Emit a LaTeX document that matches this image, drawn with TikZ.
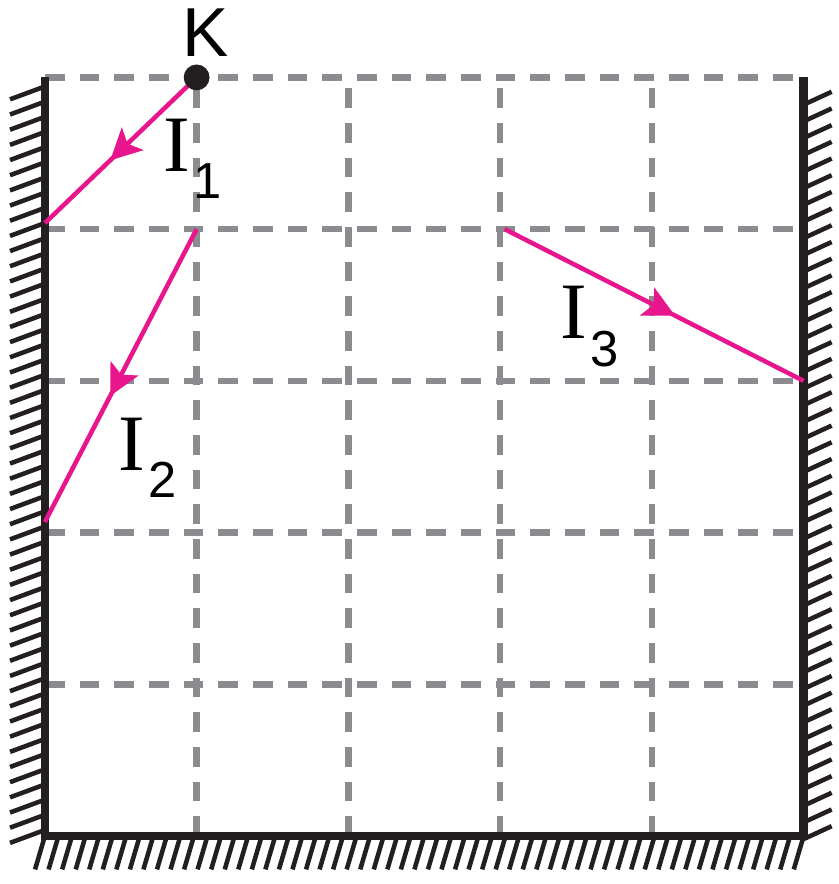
\documentclass[tikz,border=0pt]{standalone}
\usepackage{fontspec}
\setmainfont{Liberation Sans}
\newfontfamily\seriffont{Liberation Serif}
\usetikzlibrary{arrows.meta,decorations.markings}

\definecolor{raypink}{RGB}{232,22,140}
\definecolor{gridgray}{RGB}{140,140,144}
\definecolor{wallblack}{RGB}{35,31,32}

\tikzset{
  gridline/.style={gridgray, line width=1.2pt, dash pattern=on 3.7pt off 2.8pt},
  wall/.style={wallblack, line width=1.65pt},
  hatch/.style={wallblack, line width=0.85pt},
  ray/.style={raypink, line width=0.85pt, postaction={decorate},
    decoration={markings, mark=at position 0.57 with
      {\arrow{Stealth[length=5.8pt,width=5.8pt,inset=1.3pt]}}}},
  lbl/.style={anchor=base west, inner sep=0pt}
}
\newcommand{\Ilab}[1]{{\seriffont\fontsize{15}{15}\selectfont I}\kern0.6pt\raisebox{-5.1pt}{\fontsize{9.5}{9.5}\selectfont #1}}

\begin{document}
\begin{tikzpicture}

  \useasboundingbox (-0.296,-0.316) rectangle (5.23,5.51);

  % Points
  \coordinate (K) at (1,5);
  \coordinate (W1) at (0,4.04);
  \coordinate (S2) at (1,4);
  \coordinate (W2) at (0,2.07);
  \coordinate (S3) at (3.03,4);
  \coordinate (W3) at (5,3);

  % Grid
  \foreach \i in {1,...,4} {
    \draw[gridline] (\i,0) -- (\i,5);
    \draw[gridline] (0,\i) -- (5,\i);
  }
  \draw[gridline] (0,5) -- (5,5);

  % Hatching
  \foreach \y in {0.04,0.14,...,4.95}
    \draw[hatch] (0,\y) -- ++(-0.23,-0.085);
  \foreach \y in {-0.02,0.09,...,4.85}
    \draw[hatch] (5,\y) -- ++(0.185,0.085);
  \foreach \k in {0,...,56}
    \draw[hatch] (\k*0.0893,0) -- ++(-0.065,-0.22);

  % Walls
  \draw[wall] (0,5) -- (0,0) -- (5,0) -- (5,5);

  % Rays
  \draw[ray] (K) -- (W1);
  \draw[ray] (S2) -- (W2);
  \draw[ray] (S3) -- (W3);

  % Source
  \fill[wallblack] (K) circle (0.085);
  \node[anchor=base, inner sep=0pt, font=\fontsize{13}{13}\selectfont] (Klab) at (1.06,5.14) {K};

  % Labels
  \node[lbl] (L1) at (0.776,4.38) {\Ilab{1}};
  \node[lbl] (L2) at (0.48,2.408) {\Ilab{2}};
  \node[lbl] (L3) at (3.39,3.276) {\Ilab{3}};

\end{tikzpicture}
\end{document}
